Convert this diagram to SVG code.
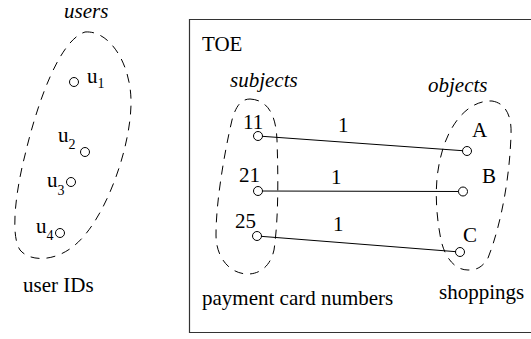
<svg xmlns="http://www.w3.org/2000/svg" width="531" height="339" viewBox="0 0 531 339" font-family="'Liberation Serif', 'DejaVu Serif', 'Times New Roman', serif">
  <style>
    text { font-family: "Liberation Serif", "DejaVu Serif", "Times New Roman", serif; font-size: 21px; fill: #000; }
    .it { font-style: italic; }
    .sub { font-size: 14px; }
    .set { fill: none; stroke: #000; stroke-width: 1; stroke-dasharray: 9 7; }
    .pt { fill: #fff; stroke: #000; stroke-width: 1; }
    .edge { stroke: #000; stroke-width: 1; fill: none; }
    .frame { fill: none; stroke: #333; stroke-width: 1.2; }
  </style>

  <!-- user set -->
  <g id="users">
    <text class="it" x="64" y="18">users</text>
    <path class="set" d="M85,32 C110,30 132,65 131,105 C130,150 105,220 75,245 C55,262 30,262 20,250 C10,235 16,190 25,155 C38,100 60,40 85,32 Z"/>
    <text x="23" y="292">user IDs</text>
  </g>
  <g id="u1">
    <circle class="pt" cx="74" cy="82" r="4.5"/>
    <text x="87" y="82.5">u</text><text class="sub" x="97.5" y="88">1</text>
  </g>
  <g id="u2">
    <circle class="pt" cx="85" cy="152" r="4.5"/>
    <text x="58" y="142">u</text><text class="sub" x="68.5" y="149">2</text>
  </g>
  <g id="u3">
    <circle class="pt" cx="71" cy="182" r="4.5"/>
    <text x="47" y="187">u</text><text class="sub" x="57.5" y="194.5">3</text>
  </g>
  <g id="u4">
    <circle class="pt" cx="60" cy="233" r="4.5"/>
    <text x="36" y="233">u</text><text class="sub" x="46.5" y="240">4</text>
  </g>

  <!-- TOE frame -->
  <g id="toe">
    <path class="frame" d="M533,19.5 H189.5 V332.5 H533"/>
    <text x="202" y="51">TOE</text>
  </g>

  <!-- subject set -->
  <g id="subjects">
    <text class="it" x="230" y="87">subjects</text>
    <path class="set" d="M250,99 C268,100 276,115 277,140 C278,170 279,215 274,250 C270,268 258,274 248,274 C230,274 216,258 216,235 C216,200 225,150 232,120 C236,105 242,99 250,99 Z"/>
    <text x="202" y="305">payment card numbers</text>
  </g>

  <!-- object set -->
  <g id="objects">
    <text class="it" x="428" y="92">objects</text>
    <path class="set" d="M492,101 C505,103 512,115 511,135 C510,170 503,220 488,258 C482,268 476,270 468,270 C455,270 445,258 441,240 C436,215 434,185 440,160 C446,130 465,100 492,101 Z"/>
    <text x="439" y="299">shoppings</text>
  </g>

  <!-- connectors -->
  <g id="connectors">
    <line class="edge" x1="258" y1="136" x2="467" y2="151"/>
    <line class="edge" x1="258" y1="191" x2="463" y2="191.5"/>
    <line class="edge" x1="257" y1="236" x2="460" y2="252"/>
    <text x="338" y="132">1</text>
    <text x="331" y="184">1</text>
    <text x="333" y="231">1</text>
  </g>

  <!-- subjects -->
  <g id="s11">
    <text x="243" y="129">11</text>
    <circle class="pt" cx="258" cy="136" r="4.5"/>
  </g>
  <g id="s21">
    <text x="239" y="182">21</text>
    <circle class="pt" cx="258" cy="191" r="4.5"/>
  </g>
  <g id="s25">
    <text x="235" y="228">25</text>
    <circle class="pt" cx="257" cy="236" r="4.5"/>
  </g>

  <!-- objects -->
  <g id="oA">
    <text x="472" y="137">A</text>
    <circle class="pt" cx="467" cy="151" r="4.5"/>
  </g>
  <g id="oB">
    <text x="482" y="183">B</text>
    <circle class="pt" cx="463" cy="191.5" r="4.5"/>
  </g>
  <g id="oC">
    <text x="463" y="242">C</text>
    <circle class="pt" cx="460" cy="252" r="4.5"/>
  </g>
</svg>
